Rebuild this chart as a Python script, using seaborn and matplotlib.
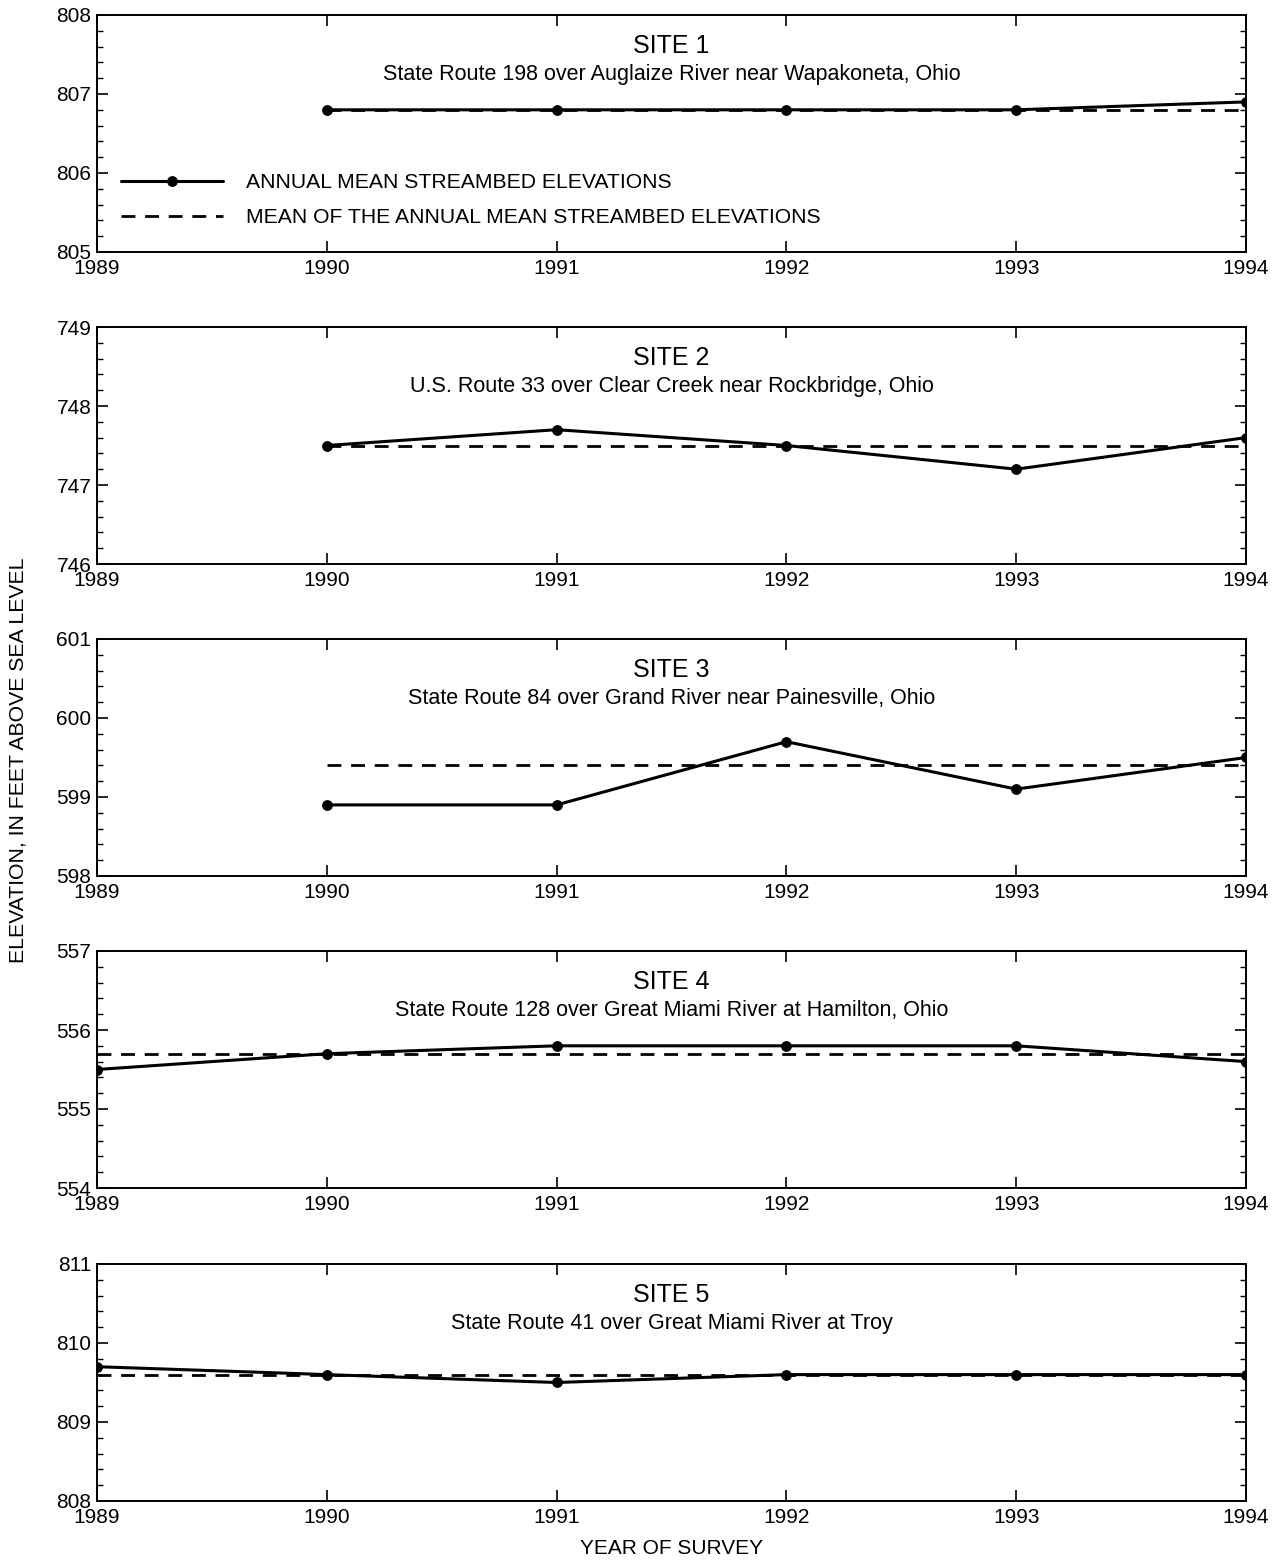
import matplotlib
matplotlib.use("Agg")
import matplotlib.pyplot as plt
from matplotlib.ticker import MultipleLocator
import seaborn as sns
import pandas as pd

sns.set_theme(style="ticks")
plt.rcParams['font.family'] = ['Liberation Sans', 'DejaVu Sans']
plt.rcParams['text.color'] = 'black'
plt.rcParams['axes.labelcolor'] = 'black'
plt.rcParams['xtick.color'] = 'black'
plt.rcParams['ytick.color'] = 'black'

site_titles = ["SITE 1", "SITE 2", "SITE 3", "SITE 4", "SITE 5"]
site_names = [
    "State Route 198 over Auglaize River near Wapakoneta, Ohio",
    "U.S. Route 33 over Clear Creek near Rockbridge, Ohio",
    "State Route 84 over Grand River near Painesville, Ohio",
    "State Route 128 over Great Miami River at Hamilton, Ohio",
    "State Route 41 over Great Miami River at Troy",
]
site1_years = [1990, 1991, 1992, 1993, 1994]
site1_elev = [806.8, 806.8, 806.8, 806.8, 806.9]
site2_years = [1990, 1991, 1992, 1993, 1994]
site2_elev = [747.5, 747.7, 747.5, 747.2, 747.6]
site3_years = [1990, 1991, 1992, 1993, 1994]
site3_elev = [598.9, 598.9, 599.7, 599.1, 599.5]
site4_years = [1989, 1990, 1991, 1992, 1993, 1994]
site4_elev = [555.5, 555.7, 555.8, 555.8, 555.8, 555.6]
site5_years = [1989, 1990, 1991, 1992, 1993, 1994]
site5_elev = [809.7, 809.6, 809.5, 809.6, 809.6, 809.6]
mean_elev = [806.8, 747.5, 599.4, 555.7, 809.6]
y_ranges = [(805, 808), (746, 749), (598, 601), (554, 557), (808, 811)]
x_ticks = [1989, 1990, 1991, 1992, 1993, 1994]

years_all = [site1_years, site2_years, site3_years, site4_years, site5_years]
elev_all = [site1_elev, site2_elev, site3_elev, site4_elev, site5_elev]

W, H = 1281, 1562
fig = plt.figure(figsize=(W / 100, H / 100), dpi=100)

left_px, right_px = 97, 1246
tops = [15, 327, 639, 951, 1264]
ph = 237

for i in range(5):
    top = tops[i]
    ax = fig.add_axes([left_px / W, 1 - (top + ph) / H, (right_px - left_px) / W, ph / H])
    df = pd.DataFrame({"year": years_all[i], "elev": elev_all[i]})
    dm = pd.DataFrame({"year": years_all[i], "elev": [mean_elev[i]] * len(years_all[i])})
    sns.lineplot(data=dm, x="year", y="elev", ax=ax, color="black", lw=2.0,
                 dashes=False, label="MEAN OF THE ANNUAL MEAN STREAMBED ELEVATIONS")
    ax.lines[-1].set_dashes((5, 3.5))
    sns.lineplot(data=df, x="year", y="elev", ax=ax, color="black", lw=2.2,
                 marker="o", markersize=7, markeredgecolor="black",
                 label="ANNUAL MEAN STREAMBED ELEVATIONS")
    ax.set_xlim(1989, 1994)
    ax.set_ylim(*y_ranges[i])
    ax.set_xticks(x_ticks)
    ax.set_xticklabels([str(t) for t in x_ticks])
    ax.yaxis.set_major_locator(MultipleLocator(1))
    ax.yaxis.set_minor_locator(MultipleLocator(0.2))
    ax.tick_params(axis="x", which="major", direction="in", top=True, bottom=True,
                   length=8, width=1.2, labelsize=15, pad=5, colors="black")
    ax.tick_params(axis="y", which="major", direction="in", left=True, right=True,
                   length=8, width=1.2, labelsize=15, pad=4, colors="black")
    ax.tick_params(axis="y", which="minor", direction="in", left=True, right=True,
                   length=4, width=1.0)
    for s in ax.spines.values():
        s.set_linewidth(1.4)
        s.set_color("black")
    ax.set_xlabel("")
    ax.set_ylabel("")
    ax.text(0.5, 0.87, site_titles[i], transform=ax.transAxes, ha="center",
            va="center", fontsize=18)
    ax.text(0.5, 0.75, site_names[i], transform=ax.transAxes, ha="center",
            va="center", fontsize=15.5)
    if i == 0:
        h, l = ax.get_legend_handles_labels()
        ax.legend(h[::-1], l[::-1], loc="lower left", bbox_to_anchor=(0.012, 0.06),
                  frameon=False, fontsize=15.2, handlelength=4.8, handletextpad=1.1,
                  labelspacing=0.75, borderpad=0)
    else:
        if ax.get_legend() is not None:
            ax.get_legend().remove()

fig.text(18 / W, 1 - 760 / H, "ELEVATION, IN FEET ABOVE SEA LEVEL", rotation=90,
         ha="center", va="center", fontsize=15.3)
fig.text(672 / W, 1 - 1548 / H, "YEAR OF SURVEY", ha="center", va="center", fontsize=15)

fig.savefig("out.png", dpi=100, facecolor="white")
